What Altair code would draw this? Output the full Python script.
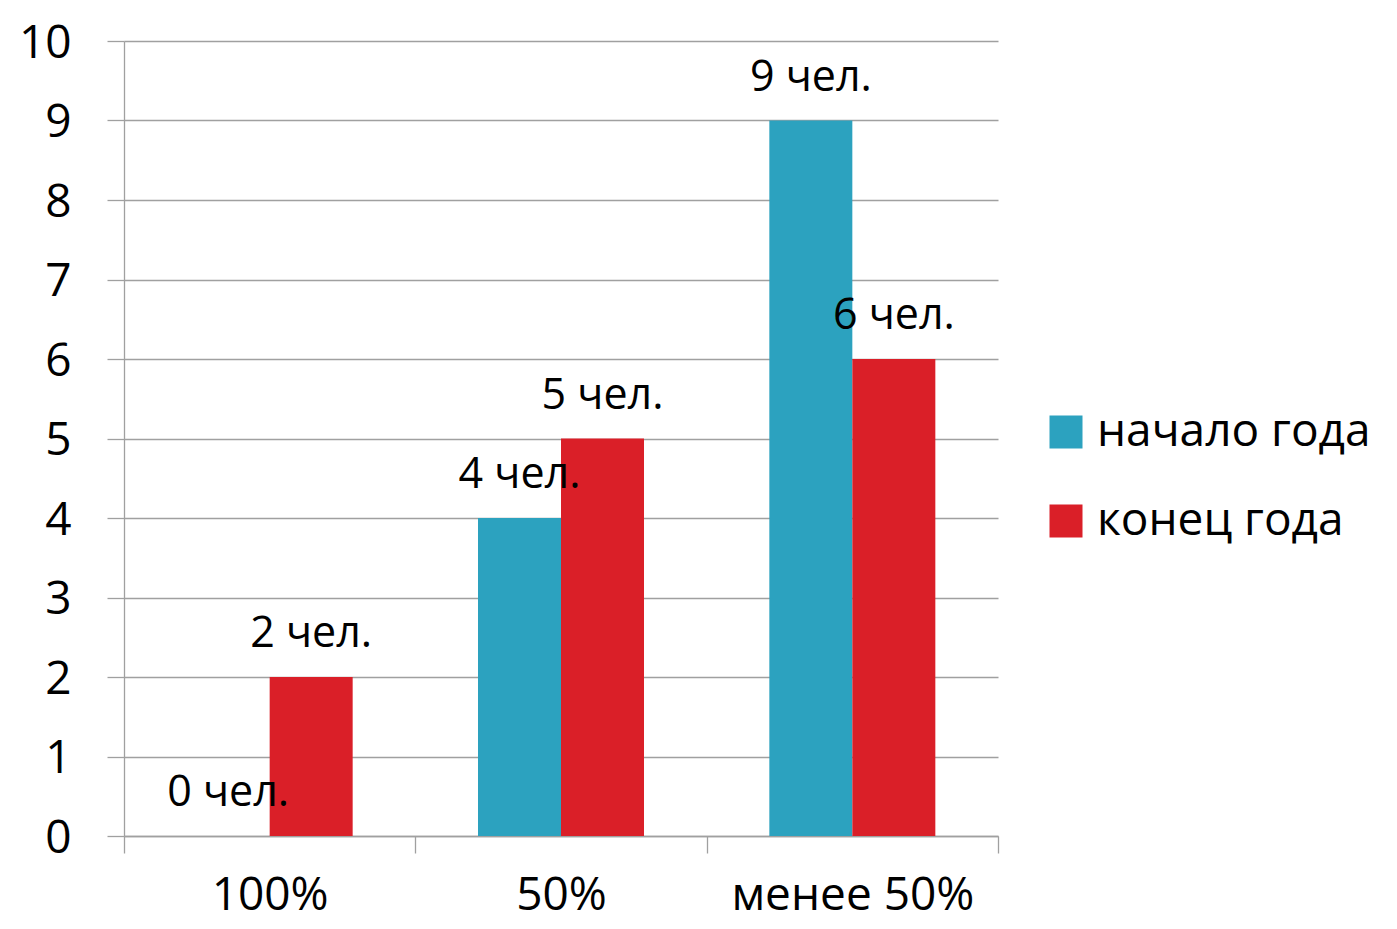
import altair as alt
import pandas as pd

categories = ["100%", "50%", "менее 50%"]
series = ["начало года", "конец года"]
start_values = [0, 4, 9]
end_values = [2, 5, 6]
colors = ["#2CA2BF", "#DA1F28"]

rows = []
for c, a, b in zip(categories, start_values, end_values):
    rows.append({"cat": c, "series": series[0], "value": a, "label": f"{a} чел."})
    rows.append({"cat": c, "series": series[1], "value": b, "label": f"{b} чел."})
df = pd.DataFrame(rows)

FONT = "Open Sans"
GRID = "#A0A0A0"

x = alt.X("cat:N", sort=categories, title=None,
          scale=alt.Scale(paddingInner=0, paddingOuter=0),
          axis=alt.Axis(tickBand="extent", tickSize=17, tickColor=GRID, tickWidth=1.3,
                        domainColor=GRID, domainWidth=1.3, labelAngle=0,
                        labelFontSize=46, labelFont=FONT, labelColor="black",
                        labelPadding=20, labelLimit=400))
xo = alt.XOffset("series:N", sort=series,
                 scale=alt.Scale(paddingInner=0, paddingOuter=0.755))
y = alt.Y("value:Q", title=None,
          scale=alt.Scale(domain=[0, 10], nice=False),
          axis=alt.Axis(values=list(range(11)), format="d", tickSize=17, tickColor=GRID,
                        tickWidth=1.3, gridColor=GRID, gridWidth=1.3, gridOpacity=1,
                        domainColor=GRID, domainWidth=1.3,
                        labelFontSize=46, labelFont=FONT, labelColor="black",
                        labelBaseline="alphabetic", labelOffset=16,
                        labelPadding=36))
color = alt.Color("series:N", sort=series,
                  scale=alt.Scale(domain=series, range=colors),
                  legend=alt.Legend(title=None, orient="none", legendX=919, legendY=368,
                                    symbolType="square", symbolSize=1089,
                                    symbolStrokeWidth=0, labelFontSize=46, labelFont=FONT,
                                    labelColor="black", rowPadding=43, labelOffset=8,
                                    labelLimit=400))

bars = alt.Chart(df).mark_bar(strokeWidth=0).encode(x=x, xOffset=xo, y=y, color=color)
labels = alt.Chart(df).mark_text(dy=-43, fontSize=43, font=FONT, color="black").encode(
    x=alt.X("cat:N", sort=categories), xOffset=alt.XOffset("series:N", sort=series),
    y="value:Q", text="label:N")

chart = alt.layer(bars, labels).properties(
    width=874, height=795,
    autosize=alt.AutoSizeParams(type="none"),
    padding={"left": 116, "top": 33, "right": 388, "bottom": 85},
).configure_view(stroke=None).configure_axis(grid=True).configure_axisX(grid=False)

chart.save("out.html", embed_options={"renderer": "svg", "actions": False})
